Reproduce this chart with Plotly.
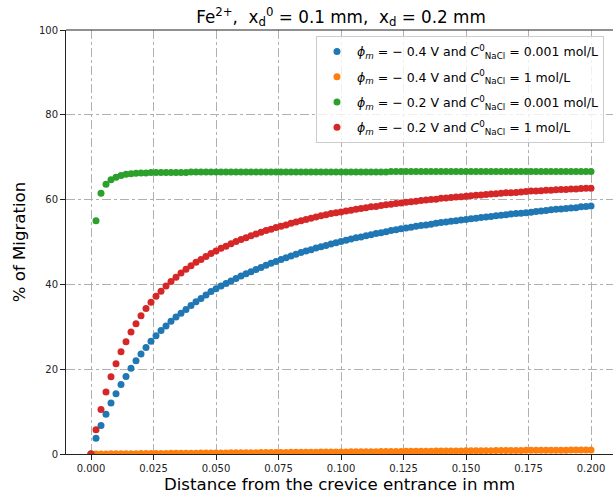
import plotly.graph_objects as go

x_mm = [round(i * 0.002, 3) for i in range(101)]

blue_pct = [
    0.0, 3.7, 6.7, 9.4, 12.0, 14.2, 16.4, 18.3, 20.2, 22.0,
    23.6, 25.1, 26.6, 27.9, 29.1, 30.2, 31.3, 32.3, 33.2, 34.1,
    35.0, 35.9, 36.7, 37.5, 38.3, 39.0, 39.6, 40.2, 40.8, 41.4,
    42.0, 42.5, 43.0, 43.5, 44.0, 44.5, 45.0, 45.4, 45.9, 46.3,
    46.7, 47.1, 47.5, 47.9, 48.2, 48.6, 48.9, 49.2, 49.5, 49.8,
    50.1, 50.4, 50.7, 51.0, 51.2, 51.5, 51.7, 52.0, 52.2, 52.4,
    52.7, 52.9, 53.1, 53.3, 53.5, 53.7, 53.9, 54.0, 54.2, 54.4,
    54.6, 54.7, 54.9, 55.0, 55.2, 55.3, 55.5, 55.6, 55.8, 55.9,
    56.0, 56.2, 56.3, 56.4, 56.6, 56.7, 56.8, 56.9, 57.0, 57.2,
    57.3, 57.4, 57.6, 57.7, 57.8, 57.9, 58.0, 58.1, 58.3, 58.4,
    58.5,
]

orange_pct = [
    0.0, 0.0, 0.01, 0.02, 0.03, 0.04, 0.05, 0.06, 0.07, 0.08,
    0.09, 0.10, 0.11, 0.12, 0.13, 0.14, 0.15, 0.16, 0.17, 0.18,
    0.19, 0.20, 0.21, 0.22, 0.23, 0.24, 0.25, 0.26, 0.27, 0.28,
    0.29, 0.30, 0.31, 0.32, 0.33, 0.34, 0.35, 0.36, 0.37, 0.38,
    0.39, 0.40, 0.41, 0.42, 0.43, 0.44, 0.45, 0.46, 0.47, 0.48,
    0.49, 0.50, 0.51, 0.52, 0.53, 0.54, 0.55, 0.56, 0.57, 0.58,
    0.59, 0.60, 0.61, 0.62, 0.63, 0.64, 0.65, 0.66, 0.67, 0.68,
    0.69, 0.70, 0.71, 0.72, 0.73, 0.74, 0.75, 0.76, 0.77, 0.78,
    0.79, 0.80, 0.81, 0.82, 0.83, 0.84, 0.85, 0.86, 0.87, 0.88,
    0.89, 0.89, 0.90, 0.90, 0.91, 0.91, 0.92, 0.92, 0.93, 0.93,
    0.94,
]

green_pct = [
    0.0, 55.0, 61.5, 63.6, 64.7, 65.3, 65.7, 66.0, 66.1, 66.2,
    66.3, 66.3, 66.4, 66.4, 66.4, 66.4, 66.4, 66.4, 66.4, 66.4,
    66.5, 66.5, 66.5, 66.5, 66.5, 66.5, 66.5, 66.5, 66.5, 66.5,
    66.5, 66.5, 66.5, 66.5, 66.5, 66.5, 66.5, 66.5, 66.5, 66.5,
    66.5, 66.5, 66.5, 66.5, 66.5, 66.5, 66.5, 66.5, 66.5, 66.5,
    66.5, 66.5, 66.5, 66.5, 66.5, 66.5, 66.5, 66.5, 66.5, 66.5,
    66.6, 66.6, 66.6, 66.6, 66.6, 66.6, 66.6, 66.6, 66.6, 66.6,
    66.6, 66.6, 66.6, 66.6, 66.6, 66.6, 66.6, 66.6, 66.6, 66.6,
    66.6, 66.6, 66.6, 66.6, 66.6, 66.6, 66.6, 66.6, 66.6, 66.6,
    66.6, 66.6, 66.6, 66.6, 66.6, 66.6, 66.6, 66.6, 66.6, 66.6,
    66.6,
]

red_pct = [
    0.0, 5.7, 10.5, 14.6, 18.2, 21.3, 24.1, 26.5, 28.8, 30.7,
    32.6, 34.3, 35.8, 37.2, 38.4, 39.6, 40.7, 41.7, 42.7, 43.6,
    44.4, 45.2, 45.9, 46.6, 47.3, 47.9, 48.5, 49.0, 49.6, 50.1,
    50.6, 51.0, 51.5, 51.9, 52.3, 52.7, 53.0, 53.4, 53.7, 54.0,
    54.4, 54.7, 55.0, 55.3, 55.6, 55.9, 56.2, 56.4, 56.7, 56.9,
    57.1, 57.3, 57.5, 57.7, 57.9, 58.1, 58.3, 58.4, 58.6, 58.8,
    58.9, 59.1, 59.2, 59.4, 59.5, 59.6, 59.8, 59.9, 60.0, 60.1,
    60.3, 60.4, 60.5, 60.6, 60.7, 60.8, 60.9, 61.0, 61.1, 61.2,
    61.3, 61.4, 61.5, 61.6, 61.6, 61.7, 61.8, 61.9, 62.0, 62.0,
    62.1, 62.2, 62.2, 62.3, 62.4, 62.4, 62.5, 62.5, 62.6, 62.7,
    62.7,
]

series_names = [
    "<i>ϕ<sub>m</sub></i> = − 0.4 V and <i>C</i><sup>0</sup><sub>NaCl</sub> = 0.001 mol/L",
    "<i>ϕ<sub>m</sub></i> = − 0.4 V and <i>C</i><sup>0</sup><sub>NaCl</sub> = 1 mol/L",
    "<i>ϕ<sub>m</sub></i> = − 0.2 V and <i>C</i><sup>0</sup><sub>NaCl</sub> = 0.001 mol/L",
    "<i>ϕ<sub>m</sub></i> = − 0.2 V and <i>C</i><sup>0</sup><sub>NaCl</sub> = 1 mol/L",
]
series_values = [blue_pct, orange_pct, green_pct, red_pct]
series_colors = ["#1f77b4", "#ff7f0e", "#2ca02c", "#d62728"]

x_ticks = [0.0, 0.025, 0.05, 0.075, 0.1, 0.125, 0.15, 0.175, 0.2]
x_tick_labels = ["0.000", "0.025", "0.050", "0.075", "0.100", "0.125", "0.150", "0.175", "0.200"]
y_ticks = [0, 20, 40, 60, 80, 100]

FONT = "DejaVu Sans"

fig = go.Figure()
for i, (name, vals, col) in enumerate(zip(series_names, series_values, series_colors)):
    fig.add_trace(go.Scatter(
        x=x_mm, y=vals, mode="markers", name=name, legendgroup=f"g{i}",
        marker=dict(color=col, size=7, line=dict(width=0)),
    ))

axis_common = dict(
    showline=True, linecolor="#222222", linewidth=1, mirror=False,
    ticks="outside", ticklen=5, tickcolor="#222222", tickwidth=1,
    showgrid=True, gridcolor="#b0b0b0", gridwidth=1, griddash="dashdot",
    zeroline=False, tickfont=dict(family=FONT, size=10, color="#222222"),
)

fig.update_layout(
    width=613, height=496,
    margin=dict(l=66, r=0, t=30, b=42),
    paper_bgcolor="white", plot_bgcolor="white",
    font=dict(family=FONT, color="#000000"),
    title=dict(
        text="Fe<sup>2+</sup>,  x<sub>d</sub><sup>0</sup> = 0.1 mm,  x<sub>d</sub> = 0.2 mm",
        x=(341 / 613), xanchor="center", y=0.978, yanchor="top",
        font=dict(family=FONT, size=16.8, color="#000000"),
    ),
    xaxis=dict(
        range=[-0.01, 0.2088], tickvals=x_ticks, ticktext=x_tick_labels,
        title=dict(text="Distance from the crevice entrance in mm",
                   font=dict(family=FONT, size=16.6), standoff=5),
        **axis_common,
    ),
    yaxis=dict(
        range=[0, 100], tickvals=y_ticks,
        title=dict(text="% of Migration", font=dict(family=FONT, size=16.6), standoff=9),
        **axis_common,
    ),
    legend=dict(
        x=0.457, y=0.986, xanchor="left", yanchor="top",
        bgcolor="rgba(255,255,255,0.8)", bordercolor="#cccccc", borderwidth=1,
        font=dict(family=FONT, size=12.5, color="#000000"),
        itemsizing="trace", tracegroupgap=6,
    ),
    showlegend=True,
)

# top spine
fig.add_shape(type="line", xref="paper", yref="paper", x0=0, x1=1, y0=1, y1=1,
              line=dict(color="#222222", width=1))

fig.write_html(
    "out.html",
    config={"displayModeBar": False},
    post_script="document.body.style.margin='0';document.body.style.padding='0';",
)
